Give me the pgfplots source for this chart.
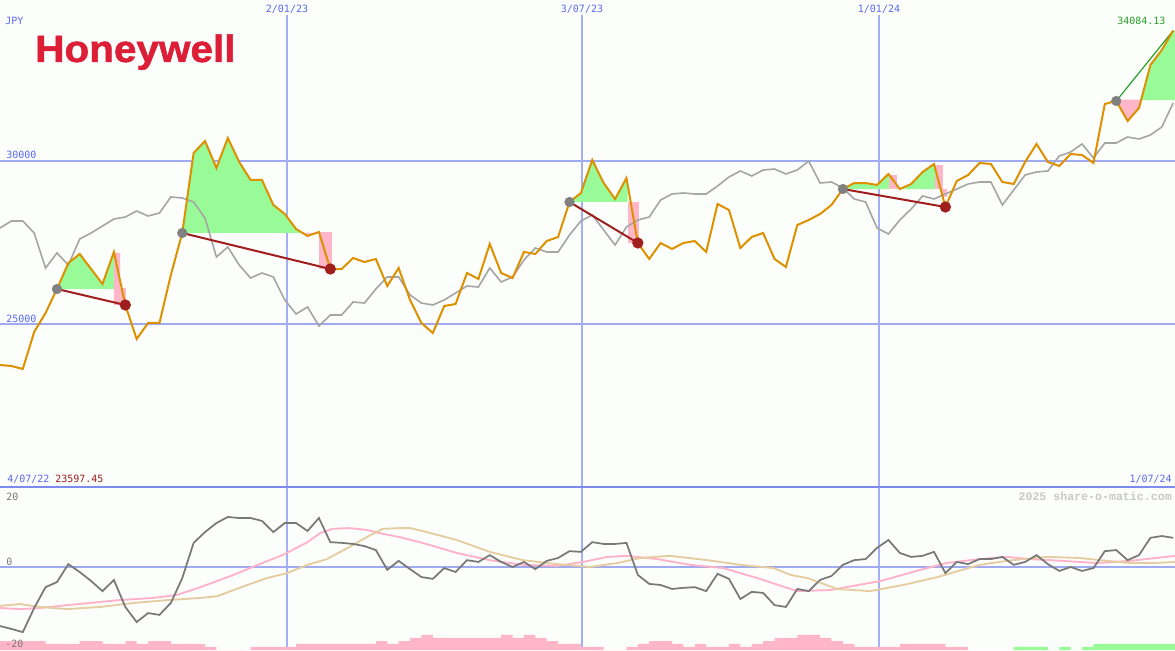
\documentclass[border=0pt]{standalone}
\usepackage{pgfplots}
\usepackage{pgfplotstable}
\pgfplotsset{compat=1.18}
\usepackage{fontspec}
\setmainfont{DejaVu Sans}
\newfontfamily\lbl{DejaVu Sans Mono}
\newfontfamily\wmfont{Liberation Mono}
\newfontfamily\logofont{Liberation Sans}[BoldFeatures={FakeBold=1.3}]

\definecolor{bgcol}{RGB}{252,254,252}
\definecolor{pricecol}{RGB}{221,145,0}
\definecolor{macol}{RGB}{165,165,165}
\definecolor{gridblue}{RGB}{160,170,240}
\definecolor{sepblue}{RGB}{125,138,238}
\definecolor{vblue}{RGB}{165,175,245}
\definecolor{txtblue}{RGB}{90,105,235}
\definecolor{upfill}{RGB}{152,251,152}
\definecolor{downfill}{RGB}{255,182,200}
\definecolor{sigred}{RGB}{160,30,30}
\definecolor{siggreen}{RGB}{40,160,40}
\definecolor{markgray}{RGB}{128,128,128}
\definecolor{osccol}{RGB}{120,120,120}
\definecolor{pinkline}{RGB}{255,178,200}
\definecolor{tanline}{RGB}{228,205,160}
\definecolor{logored}{RGB}{220,30,55}

% weekly closes (JPY) and the grey average, week index 0..103
\pgfplotstableread{
i price ma
0 23743 27945
1 23712 28160
2 23620 28160
3 24755 27792
4 25338 26718
5 26074 27178
6 26871 26810
7 27148 27608
8 26687 27792
9 26227 28006
10 27209 28221
11 25583 28282
12 24540 28467
13 25031 28313
14 25031 28405
15 26503 28896
16 27792 28865
17 30246 28743
18 30614 28252
19 29786 27055
20 30706 27362
21 29970 26810
22 29418 26411
23 29418 26565
24 28651 26442
25 28375 25737
26 27914 25307
27 27700 25522
28 27822 24939
29 26687 25276
30 26687 25276
31 27025 25675
32 26902 25644
33 26994 26074
34 26166 26442
35 26718 26442
36 25737 25890
37 25031 25644
38 24724 25583
39 25552 25737
40 25614 25951
41 26565 26166
42 26381 26135
43 27454 26718
44 26565 26289
45 26411 26442
46 27209 26963
47 27148 27332
48 27546 27209
49 27669 27209
50 28743 27730
51 29019 28160
52 30031 28344
53 29325 27884
54 28835 27424
55 29479 27976
56 27485 28190
57 26994 28282
58 27485 28804
59 27301 28988
60 27485 29019
61 27546 28988
62 27209 28988
63 28681 29233
64 28497 29509
65 27332 29694
66 27669 29540
67 27792 29724
68 26994 29755
69 26749 29601
70 28037 29724
71 28190 30000
72 28375 29325
73 28651 29356
74 29141 29172
75 29325 28835
76 29325 28743
77 29264 27945
78 29601 27761
79 29141 28190
80 29295 28528
81 29663 28927
82 29908 28835
83 28589 28988
84 29387 29141
85 29571 29295
86 29939 29356
87 29908 29356
88 29356 28651
89 29295 29111
90 29970 29571
91 30522 29663
92 29970 29694
93 29847 30154
94 30215 30276
95 30184 30522
96 29939 30092
97 31749 30552
98 31841 30552
99 31227 30736
100 31626 30675
101 32945 30798
102 33405 31043
103 34000 31779
}\pricetable

\pgfplotstableread{
i osc
0 -16.4
1 -17.2
2 -18.1
3 -11.4
4 -5.6
5 -4.2
6 0.8
7 -1.4
8 -3.9
9 -6.7
10 -3.6
11 -11.1
12 -15.3
13 -12.8
14 -13.3
15 -10.0
16 -3.1
17 6.7
18 9.7
19 12.2
20 13.9
21 13.6
22 13.6
23 12.8
24 9.7
25 12.2
26 12.2
27 10.0
28 13.6
29 6.9
30 6.7
31 6.4
32 5.8
33 4.7
34 -0.8
35 1.7
36 -0.6
37 -2.8
38 -3.3
39 -0.3
40 -1.4
41 1.9
42 1.4
43 3.3
44 1.4
45 0
46 1.4
47 -0.6
48 1.7
49 2.5
50 4.4
51 4.2
52 6.9
53 6.4
54 6.4
55 6.7
56 -2.2
57 -4.7
58 -5.0
59 -6.1
60 -5.8
61 -5.6
62 -6.7
63 -1.9
64 -3.3
65 -8.9
66 -6.9
67 -7.2
68 -10.6
69 -11.1
70 -6.1
71 -6.7
72 -3.6
73 -2.5
74 0.6
75 1.9
76 2.2
77 5.3
78 7.5
79 3.9
80 2.8
81 3.1
82 4.2
83 -1.7
84 1.4
85 0.8
86 2.2
87 2.2
88 2.8
89 0.6
90 1.4
91 3.3
92 0.8
93 -1.1
94 0
95 -1.1
96 -0.3
97 4.4
98 4.7
99 1.9
100 3.3
101 8.1
102 8.6
103 8.1
}\osctable

\pgfplotsset{
  panel/.style={
    scale only axis, width=881.25pt,
    xmin=0, xmax=103.16,
    axis line style={draw=none},
    xtick=\empty, ytick=\empty,
    axis background/.style={fill=bgcol},
  },
}

\begin{document}
\begin{tikzpicture}

\begin{axis}[panel, name=top, height=365.25pt, ymin=20000, ymax=34939]
% grid
\draw[gridblue, line width=1.5pt] (axis cs:0,30000) -- (axis cs:103.16,30000);
\draw[gridblue, line width=1.5pt] (axis cs:0,25000) -- (axis cs:103.16,25000);
\draw[vblue, line width=1.1pt] (axis cs:25.2,34479) -- (axis cs:25.2,20000);
\draw[vblue, line width=1.1pt] (axis cs:51.1,34479) -- (axis cs:51.1,20000);
\draw[vblue, line width=1.1pt] (axis cs:77.17,34479) -- (axis cs:77.17,20000);

% gains above the signal level
\addplot[fill=upfill, draw=none] coordinates {(5,26074) (6,26871) (7,27148) (8,26687) (9,26227) (10,27209) (10,26074)};
\addplot[fill=upfill, draw=none] coordinates {(16,27792) (17,30246) (18,30614) (19,29786) (20,30706) (21,29970) (22,29418) (23,29418) (24,28651) (25,28375) (26,27914) (26.57,27792)};
\addplot[fill=upfill, draw=none] coordinates {(27.75,27792) (28,27822) (28.03,27792)};
\addplot[fill=upfill, draw=none] coordinates {(50,28743) (51,29019) (52,30031) (53,29325) (54,28835) (55,29479) (55.1,29280) (55.1,28743)};
\addplot[fill=upfill, draw=none] coordinates {(74,29141) (75,29325) (76,29325) (77,29264) (78,29601) (78.08,29590) (78.08,29141)};
\addplot[fill=upfill, draw=none] coordinates {(78.73,29141) (78.73,29265) (79,29141) (80,29295) (81,29663) (82,29908) (82.1,29870) (82.1,29141)};
\addplot[fill=upfill, draw=none] coordinates {(100.2,31871) (101,32945) (102,33405) (103,34000) (103.16,34000) (103.16,31871)};
% losses
\addplot[fill=downfill, draw=none] coordinates {(10,27178) (10.55,27178) (10.55,26104) (11.05,26104) (11.05,25583) (10,25583) (10,26074)};
\addplot[fill=downfill, draw=none] coordinates {(26.57,27792) (27,27700) (27.75,27792)};
\addplot[fill=downfill, draw=none] coordinates {(28.03,27822) (29.12,27822) (29.12,26687) (28.03,26687)};
\addplot[fill=downfill, draw=none] coordinates {(55.1,28743) (56.1,28743) (56.1,27485) (55.1,27485)};
\addplot[fill=downfill, draw=none] coordinates {(78.08,29141) (78.08,29571) (78.73,29571) (78.73,29141)};
\addplot[fill=downfill, draw=none] coordinates {(82.1,29141) (82.1,29877) (82.8,29877) (82.8,29141)};
\addplot[fill=downfill, draw=none] coordinates {(82.7,29141) (83.15,29141) (83.15,28900) (82.7,28900)};
\addplot[fill=downfill, draw=none] coordinates {(98.05,31880) (99,31227) (100,31626) (100.2,31880)};

\addplot[macol, line width=1.2pt] table[x=i, y=ma] {\pricetable};

% signal lines
\addplot[sigred, line width=1.5pt] coordinates {(5,26074) (11,25583)};
\addplot[sigred, line width=1.5pt] coordinates {(16,27792) (29,26687)};
\addplot[sigred, line width=1.5pt] coordinates {(50,28743) (56,27485)};
\addplot[sigred, line width=1.5pt] coordinates {(74,29141) (83,28589)};
\addplot[siggreen, line width=0.9pt] coordinates {(98,31841) (103,34000)};

\addplot[pricecol, line width=1.5pt] table[x=i, y=price] {\pricetable};

\addplot[only marks, mark=*, mark size=3.6pt, mark options={draw=markgray, fill=markgray}]
  coordinates {(5,26074) (16,27792) (50,28743) (74,29141) (98,31841)};
\addplot[only marks, mark=*, mark size=4pt, mark options={draw=sigred, fill=sigred}]
  coordinates {(11,25583) (29,26687) (56,27485) (83,28589)};
\end{axis}

\begin{axis}[panel, name=bot, at={(top.south west)}, anchor=north west,
  height=122.25pt, ymin=-23.06, ymax=22.22]
\draw[vblue, line width=1.1pt] (axis cs:25.2,-23.06) -- (axis cs:25.2,22.22);
\draw[vblue, line width=1.1pt] (axis cs:51.1,-23.06) -- (axis cs:51.1,22.22);
\draw[vblue, line width=1.1pt] (axis cs:77.17,-23.06) -- (axis cs:77.17,22.22);
\draw[gridblue, line width=1.5pt] (axis cs:0,0) -- (axis cs:103.16,0);

% volume-like blocks along the bottom
\addplot[fill=downfill, draw=none, const plot] coordinates {
  (0,-23.06) (0,-20.56) (4,-21.39) (7,-20.56) (9,-21.39) (11,-20.56) (12,-21.39)
  (13,-20.56) (15,-21.39) (18,-22.22) (19,-23.06) (22,-22.22) (26,-21.39)
  (33,-20.56) (34,-21.39) (35,-20.56) (36,-19.72) (37,-18.89) (38,-19.72)
  (44,-18.89) (45,-19.72) (46,-18.89) (47,-19.72) (48,-20.56) (49,-21.39)
  (51,-22.22) (53,-23.06) (55,-22.22) (56,-21.39) (57,-20.56) (59,-21.39)
  (60,-22.22) (61,-21.39) (62,-22.22) (64,-21.39) (65,-22.22) (66,-21.39)
  (67,-20.56) (68,-19.72) (70,-18.89) (72,-19.72) (73,-20.56) (74,-21.39)
  (75,-22.22) (79,-21.39) (83,-22.22) (85,-23.06)};
\addplot[fill=upfill, draw=none, const plot] coordinates {
  (89,-23.06) (89,-22.22) (92,-23.06) (93,-22.22) (94,-23.06) (95,-22.22)
  (96,-21.39) (104,-21.39) (104,-23.06)};

\addplot[pinkline, line width=1.4pt] coordinates {
  (0,-11.4) (1.76,-11.7) (3.5,-11.4) (5.9,-10.6) (8.8,-9.7) (10.5,-9.2)
  (13.4,-8.6) (15.5,-7.8) (17.6,-5.6) (20.5,-2.2) (22.8,0.8) (24.8,3.3)
  (27.0,6.9) (28.1,9.4) (29.2,10.6) (30.7,10.8) (32.2,10.3) (33.6,9.2)
  (35.1,8.3) (37.1,6.7) (40.1,3.9) (43.0,1.9) (45.9,0.6) (48.9,0.3)
  (51.2,1.4) (53.3,2.8) (55.0,3.1) (57.7,2.2) (60.6,0.6) (63.5,-0.3)
  (66.5,-3.1) (69.4,-6.1) (70.0,-6.7) (72.9,-6.4) (77.3,-3.9) (80.8,-0.8)
  (83.1,1.1) (86.0,2.2) (88.4,2.8) (90.4,2.2) (93.3,1.7) (96.3,1.1)
  (99.2,1.7) (103.2,3.1)};
\addplot[tanline, line width=1.4pt] coordinates {
  (0,-10.8) (1.76,-10.3) (3.5,-11.1) (5.9,-11.7) (8.8,-11.1) (11.7,-10.0)
  (14.7,-9.2) (17.6,-8.6) (19.1,-8.1) (20.5,-6.4) (23.4,-3.1) (25.2,-1.7)
  (27.0,0.6) (28.7,2.2) (30.7,5.6) (32.2,8.3) (33.6,10.6) (35.1,10.8)
  (36.0,10.8) (37.1,10.0) (40.1,7.5) (43.0,4.2) (45.9,1.9) (48.9,0.8)
  (51.8,0) (54.2,1.1) (56.2,2.5) (58.8,3.1) (62.1,1.9) (65.0,0.6)
  (67.9,-0.3) (69.4,-2.2) (70.9,-3.1) (73.5,-6.1) (76.4,-6.7) (79.3,-5.0)
  (82.3,-2.8) (86.0,0.6) (88.9,1.9) (91.9,2.8) (94.8,2.5) (96.6,1.9)
  (99.2,1.1) (101.2,1.1) (103.2,1.4)};
\addplot[osccol, line width=1.3pt] table[x=i, y=osc] {\osctable};
\end{axis}

% labels, in pixel units of the 1175 x 650 frame
\begin{scope}[shift={(top.north west)}, x=0.75pt, y=-0.75pt]
\draw[sepblue, line width=1.5pt] (0,487) -- (1175,487);
\tikzset{lb/.style={inner sep=0pt, font=\fontsize{7.5pt}{9pt}\lbl, text=txtblue}}
\node[lb, anchor=base west] at (5,25) {JPY};
\node[lb, anchor=base] at (287,13) {2/01/23};
\node[lb, anchor=base] at (582,13) {3/07/23};
\node[lb, anchor=base] at (879,13) {1/01/24};
\node[lb, anchor=base west] at (6,159) {30000};
\node[lb, anchor=base west] at (6,323) {25000};
\node[lb, anchor=base west] at (7,483) {4/07/22};
\node[lb, anchor=base west, text=sigred] at (55,483) {23597.45};
\node[lb, anchor=base east] at (1172,483) {1/07/24};
\node[lb, anchor=base west, text=siggreen] at (1117,25) {34084.13};
\node[lb, anchor=base west, text=osccol] at (6,501) {20};
\node[lb, anchor=base west, text=osccol] at (6,566) {0};
\node[lb, anchor=base west, text=osccol] at (5,647) {-20};
\node[inner sep=0pt, anchor=base east, font=\fontsize{8.7pt}{10pt}\wmfont\bfseries, text={rgb,255:red,200;green,200;blue,200}] at (1172,501) {2025 share-o-matic.com};
\node[inner sep=0pt, anchor=base west, xscale=1.065, font=\fontsize{28.5pt}{32pt}\logofont\bfseries, text=logored] at (35,62) {Honeywell};
\end{scope}

\pgfresetboundingbox
\path[use as bounding box] (top.north west) rectangle (bot.south east);
\end{tikzpicture}
\end{document}
